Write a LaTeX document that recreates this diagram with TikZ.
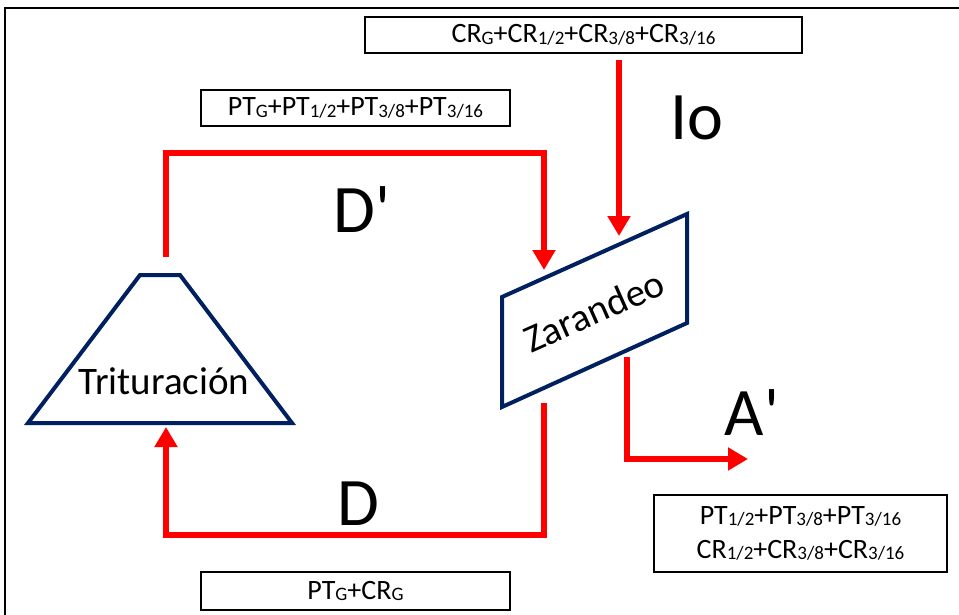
\documentclass[tikz,border=0pt]{standalone}
\usepackage{fontspec}
\setmainfont{Carlito}
\newfontfamily\lblfont{Carlito}
\usetikzlibrary{arrows.meta}
\definecolor{navy}{HTML}{002060}
\definecolor{flowred}{HTML}{FF0000}
\newcommand{\sbs}[1]{\raisebox{-1.5pt}{\fontsize{19}{19}\selectfont #1}}
\tikzset{
  databox/.style={draw=black, line width=1.6pt, inner sep=0pt, font=\fontsize{28}{32}\selectfont},
  unitshape/.style={draw=navy, line width=4pt, line join=miter},
  flow/.style={draw=flowred, line width=6pt, line join=miter, -{Triangle[length=20pt,width=22pt]}},
  biglabel/.style={inner sep=0pt, anchor=base, font=\lblfont\fontsize{68}{68}\selectfont},
  unitlabel/.style={inner sep=0pt, font=\fontsize{39}{39}\selectfont}
}
\begin{document}
\begin{tikzpicture}[x=1pt,y=-1pt]
\path[use as bounding box] (0,0) rectangle (959,615);
% outer frame
\draw[line width=2pt] (5,630) -- (5,8) -- (970,8);

% boxes
\node[databox, minimum width=437pt, minimum height=36pt] (topbox) at (583.5,35) {CR\sbs{G}+CR\sbs{1/2}+CR\sbs{3/8}+CR\sbs{3/16}};
\node[databox, minimum width=309pt, minimum height=36pt] (ptbox) at (355.5,108) {PT\sbs{G}+PT\sbs{1/2}+PT\sbs{3/8}+PT\sbs{3/16}};
\node[databox, minimum width=293pt, minimum height=77pt, align=center] (outbox) at (800.5,533.5) {PT\sbs{1/2}+PT\sbs{3/8}+PT\sbs{3/16}\\[2pt]CR\sbs{1/2}+CR\sbs{3/8}+CR\sbs{3/16}};
\node[databox, minimum width=309pt, minimum height=38pt] (botbox) at (355.5,591) {PT\sbs{G}+CR\sbs{G}};

% Trituracion (trapezoid)
\coordinate (t1) at (28,423);
\coordinate (t2) at (292,423);
\coordinate (t3) at (180,275);
\coordinate (t4) at (140,275);
\draw[unitshape] (t1) -- (t2) -- (t3) -- (t4) -- cycle;
\node[unitlabel, anchor=base] (trit) at (164,394) {Trituración};

% Zarandeo (parallelogram)
\coordinate (z1) at (502,297);
\coordinate (z2) at (687,214);
\coordinate (z3) at (687,323);
\coordinate (z4) at (502,407);
\draw[unitshape] (z1) -- (z2) -- (z3) -- (z4) -- cycle;
\node[unitlabel, rotate=24] (zar) at (594,311) {Zarandeo};

% connector end points
\coordinate (ioS) at (619,60);
\coordinate (zTopA) at (619,236);
\coordinate (zTopB) at (544,270);
\coordinate (zBotA) at (544,403);
\coordinate (zBotB) at (627,357);
\coordinate (tTop) at (166,257);
\coordinate (tBot) at (166,427);
\coordinate (aEnd) at (748,459);

% flows
\draw[flow] (ioS) -- (zTopA);
\draw[flow] (tTop) -- (166,153) -- (544,153) -- (zTopB);
\draw[flow] (zBotA) -- (544,535) -- (166,535) -- (tBot);
\draw[flow] (zBotB) -- (627,459) -- (aEnd);

% labels
\node[biglabel] (lio) at (697,140) {Io};
\node[biglabel] (ldp) at (362,232) {D'};
\node[biglabel] (ld) at (358,525) {D};
\node[biglabel] (lap) at (752,435) {A'};
\end{tikzpicture}
\end{document}
